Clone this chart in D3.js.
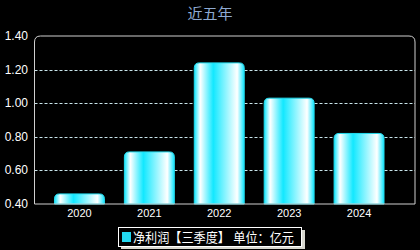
<!DOCTYPE html>
<html>
<head>
<meta charset="utf-8">
<script src="https://cdn.jsdelivr.net/npm/d3@7/dist/d3.min.js"></script>
<style>
  body { margin: 0; background: #000; }
  text { font-family: "Liberation Sans", Arial, "Noto Sans CJK SC", sans-serif; }
</style>
</head>
<body>
<div id="chart"></div>
<script>
var years = ["2020", "2021", "2022", "2023", "2024"];
var profit = [0.46, 0.71, 1.24, 1.03, 0.82];
var yTicks = [0.40, 0.60, 0.80, 1.00, 1.20, 1.40];
var titleText = "近五年";
var legendText = "净利润【三季度】 单位：亿元";

var width = 420, height = 250;
var plotLeft = 34.5, plotRight = 415, plotTop = 36, plotBottom = 204;

var svg = d3.select("#chart").append("svg")
    .attr("width", width)
    .attr("height", height)
    .style("background", "#000");

var defs = svg.append("defs");
var grad = defs.append("linearGradient")
    .attr("id", "barGrad")
    .attr("x1", "0%").attr("x2", "100%").attr("y1", "0%").attr("y2", "0%");
[[0, "#10e6ff"], [0.12, "#ffffff"], [0.38, "#12e8ff"], [0.6, "#7ff3ff"], [0.86, "#ffffff"], [1, "#10e6ff"]]
    .forEach(function(s) {
        grad.append("stop").attr("offset", s[0]).attr("stop-color", s[1]);
    });

var y = d3.scaleLinear().domain([0.4, 1.4]).range([plotBottom, plotTop]);
var x = d3.scaleBand().domain(years).range([plotLeft + 10, plotRight - 21]).paddingInner(0.286).paddingOuter(0.143);

// title
svg.append("text")
    .attr("x", 210).attr("y", 19)
    .attr("text-anchor", "middle")
    .attr("fill", "#8eaad2")
    .style("font-size", "15px")
    .text(titleText);

// grid lines
svg.append("g").selectAll("line")
    .data(yTicks.filter(function(d) { return d > 0.4 && d < 1.4; }))
    .enter().append("line")
    .attr("x1", plotLeft).attr("x2", plotRight)
    .attr("y1", function(d) { return Math.round(y(d)) + 0.5; })
    .attr("y2", function(d) { return Math.round(y(d)) + 0.5; })
    .attr("stroke", "#c8e4ea")
    .attr("stroke-dasharray", "3,2");

// bars with rounded tops
var r = 5;
function barPath(d, i) {
    var x0 = x(years[i]), x1 = x0 + x.bandwidth(), y0 = y(d), yb = plotBottom;
    return "M" + x0 + "," + yb + "L" + x0 + "," + (y0 + r) +
        "Q" + x0 + "," + y0 + " " + (x0 + r) + "," + y0 +
        "L" + (x1 - r) + "," + y0 +
        "Q" + x1 + "," + y0 + " " + x1 + "," + (y0 + r) +
        "L" + x1 + "," + yb + "Z";
}
svg.append("g").selectAll("path")
    .data(profit)
    .enter().append("path")
    .attr("d", barPath)
    .attr("fill", "url(#barGrad)")
    .attr("stroke", "#22ddf0")
    .attr("stroke-width", 1);

// plot frame with rounded top corners
var fr = 6;
svg.append("path")
    .attr("d", "M" + plotLeft + "," + plotBottom + "L" + plotLeft + "," + (plotTop + fr) +
        "Q" + plotLeft + "," + plotTop + " " + (plotLeft + fr) + "," + plotTop +
        "L" + (plotRight - fr) + "," + plotTop +
        "Q" + plotRight + "," + plotTop + " " + plotRight + "," + (plotTop + fr) +
        "L" + plotRight + "," + plotBottom + "Z")
    .attr("fill", "none")
    .attr("stroke", "#cfcfcf")
    .attr("stroke-width", 1);

// y labels
svg.append("g").selectAll("text")
    .data(yTicks)
    .enter().append("text")
    .attr("x", 28)
    .attr("y", function(d) { return y(d) + 4; })
    .attr("text-anchor", "end")
    .attr("fill", "#fff")
    .style("font-size", "12px")
    .text(function(d) { return d3.format(".2f")(d); });

// x labels
svg.append("g").selectAll("text")
    .data(years)
    .enter().append("text")
    .attr("x", function(d) { return x(d) + x.bandwidth() / 2; })
    .attr("y", 217)
    .attr("text-anchor", "middle")
    .attr("fill", "#fff")
    .style("font-size", "11px")
    .text(function(d) { return d; });

// legend
var lg = svg.append("g");
lg.append("rect").attr("x", 121).attr("y", 230).attr("width", 184).attr("height", 19).attr("fill", "#d8d8d0");
lg.append("rect").attr("x", 118.5).attr("y", 227.5).attr("width", 183).attr("height", 19)
    .attr("fill", "#000").attr("stroke", "#fff").attr("stroke-width", 1);
lg.append("rect").attr("x", 122).attr("y", 232).attr("width", 9).attr("height", 10).attr("fill", "#22d8f0");
lg.append("text").attr("x", 133).attr("y", 242)
    .attr("fill", "#fff")
    .style("font-size", "13px")
    .attr("textLength", 161)
    .attr("lengthAdjust", "spacingAndGlyphs")
    .text(legendText);
</script>
</body>
</html>
